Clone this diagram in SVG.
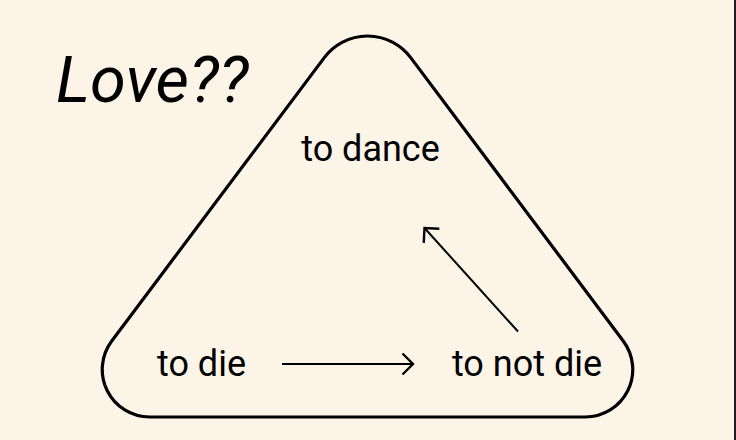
<svg xmlns="http://www.w3.org/2000/svg" width="736" height="440" viewBox="0 0 736 440">
<style>
.lbl{font-family:Roboto,"Liberation Sans",sans-serif;font-size:36px;fill:#000;text-anchor:middle}
.title{font-family:Roboto,"Liberation Sans",sans-serif;font-size:65px;font-style:italic;fill:#000}
.edge{fill:none;stroke:#000;stroke-width:2}
</style>
<defs>
<marker id="chev" markerUnits="userSpaceOnUse" markerWidth="30" markerHeight="30" refX="0" refY="0" viewBox="-15 -15 30 30" orient="auto" overflow="visible">
<path d="M-10.5,-10.5 L0,0 L-10.5,10.5" fill="none" stroke="#000" stroke-width="2.4" stroke-linejoin="miter"/>
</marker>
</defs>
<rect x="0" y="0" width="736" height="440" fill="#fcf5e7"/>
<rect x="734" y="0" width="2" height="440" fill="#1e1e1e"/>
<g id="title"><text class="title" x="56" y="102">Love??</text></g>
<g id="frame"><path d="M324.3,57.6 A54,54 0 0 1 410.7,57.6 L623.25,341 A47.5,47.5 0 0 1 585.25,417 L149.75,417 A47.5,47.5 0 0 1 111.75,341 Z" fill="none" stroke="#000" stroke-width="3.2"/></g>
<g id="node-dance"><text class="lbl" x="370.5" y="161">to dance</text></g>
<g id="node-die"><text class="lbl" x="201.5" y="375.5">to die</text></g>
<g id="node-notdie"><text class="lbl" x="527" y="375.5">to not die</text></g>
<g id="connectors">
<line class="edge" x1="282" y1="364" x2="413" y2="364" marker-end="url(#chev)"/>
<line class="edge" x1="518" y1="331.5" x2="424.5" y2="228" marker-end="url(#chev)"/>
</g>
</svg>
